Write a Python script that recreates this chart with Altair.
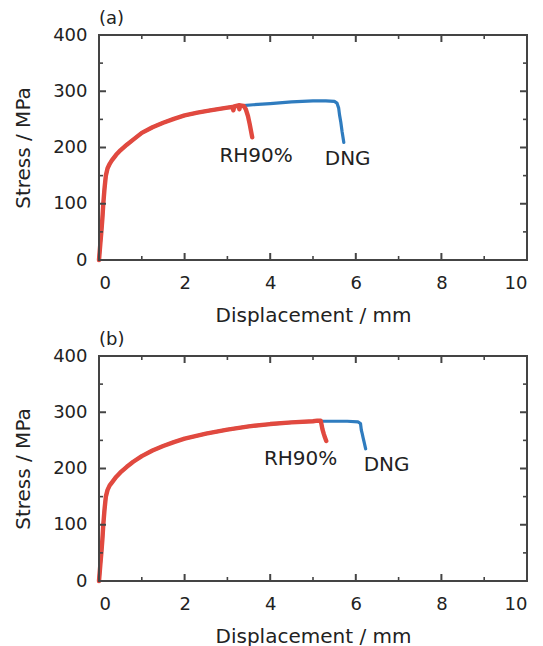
import altair as alt
import pandas as pd

# ---------------- data ----------------
# panel (a)
a_dng_x = [0, 0.03, 0.055, 0.08, 0.1, 0.13, 0.16, 0.2, 0.25, 0.3, 0.4, 0.5, 0.65, 0.8, 1.0, 1.25, 1.5, 1.75,
           2.0, 2.3, 2.6, 3.0, 3.3, 3.6, 4.0, 4.5, 5.0, 5.3, 5.5, 5.56, 5.6, 5.62, 5.65, 5.68, 5.72]
a_dng_y = [0, 28, 50, 75, 100, 128, 150, 163, 171, 177, 187, 195, 205, 214, 226, 236, 244, 251,
           257, 262, 266, 271, 274, 276, 278, 281, 283, 283, 282, 279, 270, 258, 245, 228, 209]
a_rh_x = [0, 0.03, 0.055, 0.08, 0.1, 0.13, 0.16, 0.2, 0.25, 0.3, 0.4, 0.5, 0.65, 0.8, 1.0, 1.25, 1.5, 1.75,
          2.0, 2.3, 2.6, 3.0, 3.12, 3.14, 3.16, 3.26, 3.28, 3.3, 3.38, 3.43, 3.48, 3.52, 3.55, 3.58]
a_rh_y = [0, 28, 50, 75, 100, 128, 150, 163, 171, 177, 187, 195, 205, 214, 226, 236, 244, 251,
          257, 262, 266, 271, 272, 266, 273, 275, 268, 275, 274, 268, 256, 242, 230, 218]

# panel (b)
b_dng_x = [0, 0.03, 0.055, 0.08, 0.1, 0.13, 0.16, 0.2, 0.25, 0.3, 0.4, 0.5, 0.65, 0.8, 1.0, 1.25, 1.5, 1.75,
           2.0, 2.5, 3.0, 3.5, 4.0, 4.5, 5.0, 5.5, 5.8, 6.05, 6.11, 6.13, 6.15, 6.17, 6.2, 6.23]
b_dng_y = [0, 28, 50, 75, 100, 128, 150, 162, 170, 175, 185, 193, 203, 212, 222, 232, 240, 247,
           253, 262, 269, 275, 279, 282, 284, 284, 284, 283, 280, 268, 262, 255, 245, 235]
b_rh_x = [0, 0.03, 0.055, 0.08, 0.1, 0.13, 0.16, 0.2, 0.25, 0.3, 0.4, 0.5, 0.65, 0.8, 1.0, 1.25, 1.5, 1.75,
          2.0, 2.5, 3.0, 3.5, 4.0, 4.5, 5.0, 5.1, 5.18, 5.2, 5.22, 5.25, 5.28, 5.31]
b_rh_y = [0, 28, 50, 75, 100, 128, 150, 162, 170, 175, 185, 193, 203, 212, 222, 232, 240, 247,
          253, 262, 269, 275, 279, 282, 284, 285, 285, 278, 270, 262, 255, 249]

label_text = ["RH90%", "DNG"]
a_label_x = [3.67, 5.81]
a_label_y = [185, 180]
b_label_x = [4.71, 6.72]
b_label_y = [217, 207]

panel_titles = ["(a)", "(b)"]
x_major = [0, 2, 4, 6, 8, 10]
x_minor = [1, 3, 5, 7, 9]
y_major = [0, 100, 200, 300, 400]
y_minor = [50, 150, 250, 350]

# ---------------- styling ----------------
W, H = 428, 225
FONT = "DejaVu Sans"
BLUE = "#2f7cbf"
RED = "#e1493f"
FRAME = "#444444"
TEXT = "#222222"
MAJ, MIN = 7, 4

xs = alt.Scale(domain=[0, 10], nice=False, zero=False)
ys = alt.Scale(domain=[0, 400], nice=False, zero=False)

X_AXIS = alt.Axis(title="Displacement / mm", values=x_major, format="d",
                  ticks=False, domain=False, grid=False,
                  labelPadding=14, titlePadding=13)
Y_AXIS = alt.Axis(title="Stress / MPa", values=y_major, format="d",
                  ticks=False, domain=False, grid=False,
                  labelPadding=12, titlePadding=19)


def xq(field):
    return alt.X(f"{field}:Q", scale=xs, axis=X_AXIS)


def yq(field):
    return alt.Y(f"{field}:Q", scale=ys, axis=Y_AXIS)


def ticks_layers():
    layers = []
    for vals, ln, sw in [(x_major, MAJ, 2), (x_minor, MIN, 1.6)]:
        base = alt.Chart(pd.DataFrame({"d": vals})).mark_rule(color=FRAME, strokeWidth=sw)
        layers.append(base.encode(x=xq("d"), y=alt.value(H), y2=alt.value(H - ln)))
        layers.append(base.encode(x=xq("d"), y=alt.value(0), y2=alt.value(ln)))
    for vals, ln, sw in [(y_major, MAJ, 2), (y_minor, MIN, 1.6)]:
        base = alt.Chart(pd.DataFrame({"s": vals})).mark_rule(color=FRAME, strokeWidth=sw)
        layers.append(base.encode(y=yq("s"), x=alt.value(0), x2=alt.value(ln)))
        layers.append(base.encode(y=yq("s"), x=alt.value(W), x2=alt.value(W - ln)))
    return layers


def frame_layer():
    return alt.Chart(pd.DataFrame({"k": [0]})).mark_rect(
        fill=None, fillOpacity=0, stroke=FRAME, strokeWidth=2
    ).encode(x=alt.value(0), x2=alt.value(W), y=alt.value(0), y2=alt.value(H))


def panel(dng_x, dng_y, rh_x, rh_y, lx, ly, title):
    dng = pd.DataFrame({"d": dng_x, "s": dng_y, "i": range(len(dng_x))})
    rh = pd.DataFrame({"d": rh_x, "s": rh_y, "i": range(len(rh_x))})
    lab = pd.DataFrame({"d": lx, "s": ly, "t": label_text})

    blue = alt.Chart(dng).mark_line(color=BLUE, strokeWidth=3.2, strokeJoin="round",
                                    strokeCap="round").encode(x=xq("d"), y=yq("s"), order="i:Q")
    red = alt.Chart(rh).mark_line(color=RED, strokeWidth=4.4, strokeJoin="round",
                                  strokeCap="round").encode(x=xq("d"), y=yq("s"), order="i:Q")
    txt = alt.Chart(lab).mark_text(font=FONT, fontSize=20, color=TEXT).encode(
        x=xq("d"), y=yq("s"), text="t:N")

    return alt.layer(blue, red, txt, *ticks_layers(), frame_layer()).properties(
        width=W, height=H,
        title=alt.TitleParams(title, anchor="start", frame="group", font=FONT, fontSize=18,
                              fontWeight="normal", color=TEXT, offset=-2),
    )


pa = panel(a_dng_x, a_dng_y, a_rh_x, a_rh_y, a_label_x, a_label_y, panel_titles[0])
pb = panel(b_dng_x, b_dng_y, b_rh_x, b_rh_y, b_label_x, b_label_y, panel_titles[1])

chart = alt.vconcat(pa, pb, spacing=6).properties(
    padding={"left": 5, "top": 2, "right": 5, "bottom": 0},
    background="white",
).configure_view(
    stroke=None
).configure_axis(
    labelFont=FONT, labelFontSize=18, labelColor=TEXT,
    titleFont=FONT, titleFontSize=20, titleColor=TEXT, titleFontWeight="normal",
)

chart.save("out.html", embed_options={"renderer": "svg", "actions": False})
